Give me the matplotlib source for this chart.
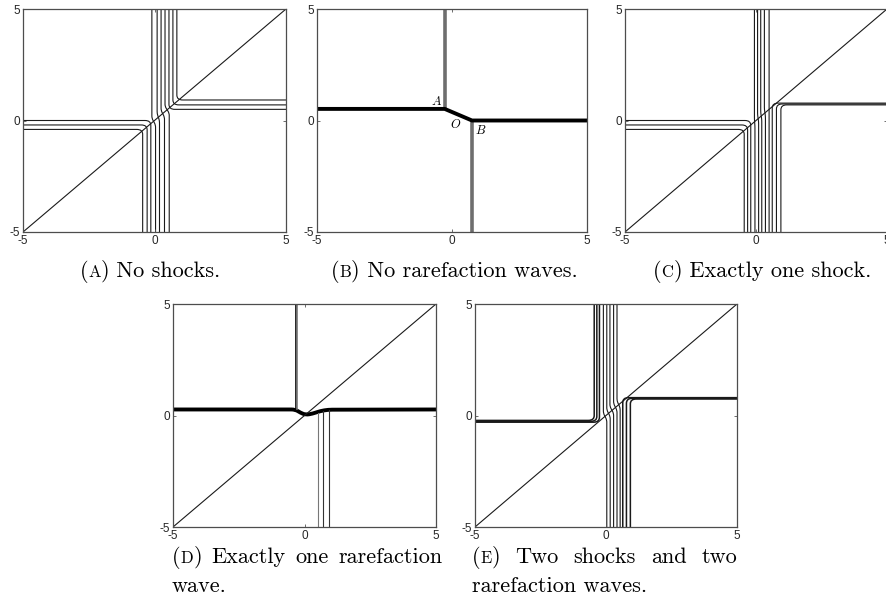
import matplotlib
matplotlib.use("Agg")
import matplotlib.pyplot as plt
from matplotlib.path import Path
from matplotlib.patches import PathPatch

plt.rcParams["font.family"] = ["Liberation Sans", "DejaVu Sans"]

# shared axis setup
ticks = [-5, 0, 5]
tick_labels = ["-5", "0", "5"]
diag = [-5, 5]

# (A) no shocks: corner curves (horizontal end, bend, vertical end) and through curves
a_corner_y = [0.0, -0.2, -0.4, 0.5, 0.7, 0.92]
a_corner_x = [-0.14, -0.28, -0.45, 0.55, 0.7, 0.85]
a_corner_hside = [-1, -1, -1, 1, 1, 1]
a_corner_vside = [-1, -1, -1, 1, 1, 1]
a_thru_top = [-0.1, 0.1, 0.25, 0.4]
a_thru_bot = [0.04, 0.19, 0.38, 0.56]
a_thru_jog = [-0.05, 0.15, 0.3, 0.48]

# (B) no rarefaction waves
b_path_x = [-5, -0.27, 0.74, 5]
b_path_y = [0.52, 0.52, 0.0, 0.0]
b_up_x = [-0.27, -0.27]
b_up_y = [0.52, 5]
b_down_x = [0.74, 0.74]
b_down_y = [0.0, -5]

# (C) exactly one shock
c_corner_y = [0.0, -0.2, -0.4, 0.78, 0.74, 0.70]
c_corner_x = [-0.2, -0.32, -0.45, 0.62, 0.78, 0.95]
c_corner_hside = [-1, -1, -1, 1, 1, 1]
c_corner_vside = [-1, -1, -1, -1, -1, -1]
c_thru_top = [-0.06, 0.06, 0.18, 0.32, 0.5]
c_thru_bot = [-0.04, 0.1, 0.22, 0.36, 0.5]
c_thru_jog = [-0.1, 0.1, 0.2, 0.35, 0.5]

# (D) exactly one rarefaction wave
d_path_x = [-5, -0.35, -0.15, 0.05, 0.3, 0.6, 0.9, 5]
d_path_y = [0.27, 0.27, 0.12, 0.03, 0.08, 0.2, 0.26, 0.27]
d_up_x = [-0.33, -0.28]
d_up_top = [5, 5]
d_up_end = [0.27, 0.27]
d_down_x = [0.5, 0.7, 0.92]
d_down_start = [0.12, 0.2, 0.25]

# (E) two shocks and two rarefaction waves
e_corner_y = [-0.22, -0.26, -0.3, 0.8, 0.77, 0.74]
e_corner_x = [-0.45, -0.35, -0.25, 0.64, 0.78, 0.93]
e_corner_hside = [-1, -1, -1, 1, 1, 1]
e_corner_vside = [1, 1, 1, -1, -1, -1]
e_thru_top = [-0.1, 0.03, 0.15, 0.29, 0.42]
e_thru_bot = [0.03, 0.16, 0.29, 0.42, 0.54]
e_thru_jog = [-0.05, 0.1, 0.25, 0.38, 0.5]

captions = [
    ("A", "No shocks."),
    ("B", "No rarefaction waves."),
    ("C", "Exactly one shock."),
    ("D", "Exactly one rarefaction"),
    ("E", "Two shocks and two"),
]
caption_second = {"D": "wave.", "E": "rarefaction waves."}

W, H = 886, 616
fig = plt.figure(figsize=(W / 100, H / 100), dpi=100)
line_color = "#1a1a1a"


def add_axes_px(x0, y0, x1, y1):
    ax = fig.add_axes([x0 / W, 1 - y1 / H, (x1 - x0) / W, (y1 - y0) / H])
    ax.set_xlim(-5, 5)
    ax.set_ylim(-5, 5)
    ax.set_xticks(ticks)
    ax.set_yticks(ticks)
    ax.set_xticklabels(tick_labels)
    ax.set_yticklabels(tick_labels)
    ax.tick_params(direction="in", length=2.5, width=0.6, color="#555555",
                   top=True, right=True, labelsize=8.5, pad=2, labelcolor="#262626")
    for s in ax.spines.values():
        s.set_color("#4d4d4d")
        s.set_linewidth(0.9)
    return ax


def rounded_path(xs, ys, r):
    verts = [(xs[0], ys[0])]
    codes = [Path.MOVETO]
    for i in range(1, len(xs) - 1):
        px, py = xs[i], ys[i]
        ax_, ay_ = xs[i - 1] - px, ys[i - 1] - py
        bx_, by_ = xs[i + 1] - px, ys[i + 1] - py
        la = (ax_ ** 2 + ay_ ** 2) ** 0.5
        lb = (bx_ ** 2 + by_ ** 2) ** 0.5
        da = min(r, la / 2)
        db = min(r, lb / 2)
        verts += [(px + ax_ / la * da, py + ay_ / la * da), (px, py),
                  (px + bx_ / lb * db, py + by_ / lb * db)]
        codes += [Path.LINETO, Path.CURVE3, Path.CURVE3]
    verts.append((xs[-1], ys[-1]))
    codes.append(Path.LINETO)
    return Path(verts, codes)


def draw_curve(ax, xs, ys, r=0.22, lw=0.8, color=line_color):
    ax.add_patch(PathPatch(rounded_path(xs, ys, r), fill=False, lw=lw,
                           edgecolor=color, capstyle="butt"))


def draw_corners(ax, cx, cy, hs, vs, lw=0.8):
    for x, y, h, v in zip(cx, cy, hs, vs):
        draw_curve(ax, [5 * h, x, x], [y, y, 5 * v], lw=lw)


def draw_through(ax, top, bot, jog):
    for a, b, j in zip(top, bot, jog):
        draw_curve(ax, [a, a, b, b], [5, j + 0.15, j - 0.15, -5], r=0.1)


# (A)
ax = add_axes_px(23, 9, 286, 232)
ax.plot(diag, diag, color=line_color, lw=0.8)
draw_corners(ax, a_corner_x, a_corner_y, a_corner_hside, a_corner_vside)
draw_through(ax, a_thru_top, a_thru_bot, a_thru_jog)

# (B)
ax = add_axes_px(317, 9, 587, 232)
ax.plot(b_up_x, b_up_y, color="#6e6e6e", lw=2.6, solid_capstyle="butt")
ax.plot(b_down_x, b_down_y, color="#6e6e6e", lw=2.6, solid_capstyle="butt")
ax.plot(b_path_x, b_path_y, color="black", lw=2.8, solid_joinstyle="miter")
for s, x, y in [("A", -0.6, 0.85), ("O", 0.12, -0.2), ("B", 1.05, -0.45)]:
    ax.text(x, y, s, family="cmmi10", fontsize=9, ha="center", va="center")

# (C)
ax = add_axes_px(625, 9, 887, 232)
ax.plot(diag, diag, color=line_color, lw=0.8)
draw_corners(ax, c_corner_x, c_corner_y, c_corner_hside, c_corner_vside)
draw_through(ax, c_thru_top, c_thru_bot, c_thru_jog)

# (D)
ax = add_axes_px(173, 304, 436, 527)
ax.plot(diag, diag, color=line_color, lw=0.8)
for x, t, e, c in zip(d_up_x, d_up_top, d_up_end, ["black", "#777777"]):
    ax.plot([x, x], [t, e], color=c, lw=1.2)
for x, s, c in zip(d_down_x, d_down_start, ["#777777", "#333333", "#333333"]):
    ax.plot([x, x], [s, -5], color=c, lw=0.8)
draw_curve(ax, d_path_x, d_path_y, r=0.15, lw=2.8, color="black")

# (E)
ax = add_axes_px(475, 304, 737, 527)
ax.plot(diag, diag, color=line_color, lw=0.8)
draw_corners(ax, e_corner_x, e_corner_y, e_corner_hside, e_corner_vside, lw=1.1)
draw_through(ax, e_thru_top, e_thru_bot, e_thru_jog)

# captions: computer-modern with faked small caps
renderer = fig.canvas.get_renderer()
big, small = 16, 12


def place_runs(runs, x, y):
    for s, size in runs:
        t = fig.text(x / W, 1 - y / H, s, fontsize=size, family="cmr10",
                     ha="left", va="baseline")
        x += t.get_window_extent(renderer).width
    return x


def measure_runs(runs):
    total = 0
    for s, size in runs:
        t = fig.text(0, 0, s, fontsize=size, family="cmr10")
        total += t.get_window_extent(renderer).width
        t.remove()
    return total


def label_runs(letter):
    return [("(", big), (letter, small), (")", big)]


def caption_centered(letter, text, cx, y):
    runs = label_runs(letter) + [(" " + text, big)]
    w = measure_runs(runs)
    place_runs(runs, cx - w / 2, y)


def caption_justified(letter, text, x0, x1, y):
    words = [label_runs(letter)] + [[(w, big)] for w in text.split()]
    widths = [measure_runs(w) for w in words]
    gap = (x1 - x0 - sum(widths)) / (len(words) - 1)
    x = x0
    for w, wd in zip(words, widths):
        place_runs(w, x, y)
        x += wd + gap


caption_centered(*captions[0], 150, 277)
caption_centered(*captions[1], 454, 277)
caption_centered(*captions[2], 762, 277)
caption_justified(*captions[3], 172, 443, 563)
caption_justified(*captions[4], 472, 737, 563)
place_runs([(caption_second["D"], big)], 172, 592)
place_runs([(caption_second["E"], big)], 472, 592)

fig.savefig("out.png", dpi=100)
